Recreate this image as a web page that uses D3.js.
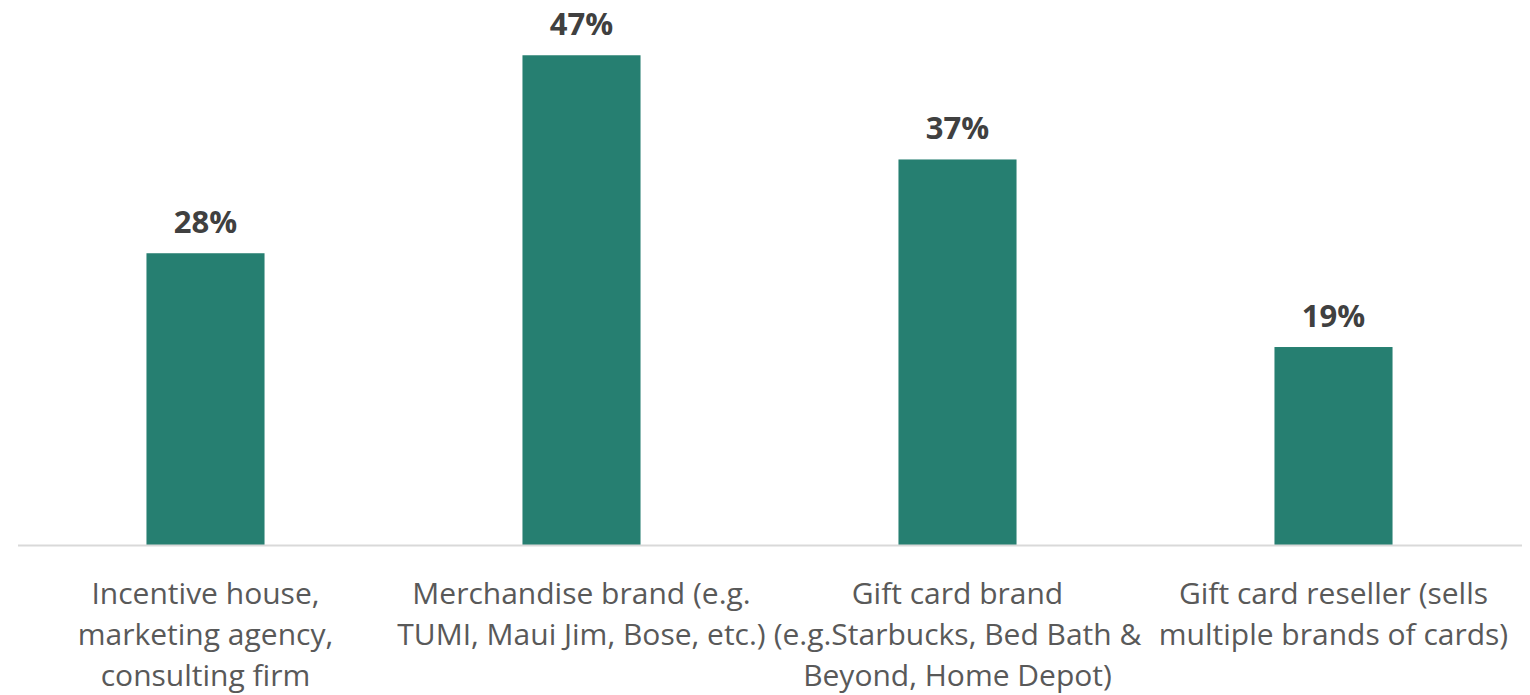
<!DOCTYPE html>
<html>
<head>
<meta charset="utf-8">
<script src="https://cdn.jsdelivr.net/npm/d3@7"></script>
<style>
  html, body { margin: 0; padding: 0; background: #ffffff; }
  svg { display: block; }
</style>
</head>
<body>
<svg id="chart" width="1530" height="695"></svg>
<script>
// Share of respondents by type of reward provider
const categories = [
  "Incentive house, marketing agency, consulting firm",
  "Merchandise brand (e.g. TUMI, Maui Jim, Bose, etc.)",
  "Gift card brand (e.g.Starbucks, Bed Bath & Beyond, Home Depot)",
  "Gift card reseller (sells multiple brands of cards)"
];
// Line breaks used for each category label
const categoryLines = [
  ["Incentive house,", "marketing agency,", "consulting firm"],
  ["Merchandise brand (e.g.", "TUMI, Maui Jim, Bose, etc.)"],
  ["Gift card brand", "(e.g.Starbucks, Bed Bath &", "Beyond, Home Depot)"],
  ["Gift card reseller (sells", "multiple brands of cards)"]
];
const values = [0.28, 0.47, 0.37, 0.19];

const svg = d3.select("#chart");
const fontFamily = "'Open Sans', 'Noto Sans', sans-serif";

const x = d3.scaleBand()
  .domain(categories)
  .range([17.5, 1521.5])
  .paddingInner(0.686)
  .paddingOuter(0.343);

const y = d3.scaleLinear()
  .domain([0, 0.5])
  .range([545, 24]);

// Bars
svg.append("g")
  .selectAll("rect")
  .data(values)
  .join("rect")
  .attr("x", (d, i) => x(categories[i]))
  .attr("y", d => y(d))
  .attr("width", x.bandwidth())
  .attr("height", d => y(0) - y(d))
  .attr("fill", "#267f71");

// Baseline axis
const axis = svg.append("g")
  .attr("transform", `translate(0,${y(0)})`)
  .call(d3.axisBottom(x).tickSize(0).tickFormat(""));
axis.select(".domain").attr("stroke", "#d9d9d9").attr("stroke-width", 2);

// Value labels
svg.append("g")
  .selectAll("text")
  .data(values)
  .join("text")
  .attr("x", (d, i) => x(categories[i]) + x.bandwidth() / 2)
  .attr("y", d => y(d) - 20)
  .attr("text-anchor", "middle")
  .attr("font-family", fontFamily)
  .attr("font-weight", "bold")
  .attr("font-size", 31)
  .attr("fill", "#404040")
  .text(d => d3.format(".0%")(d));

// Category labels
const lineHeight = 41;
svg.append("g")
  .selectAll("text")
  .data(categories)
  .join("text")
  .attr("x", d => x(d) + x.bandwidth() / 2)
  .attr("y", 604)
  .attr("text-anchor", "middle")
  .attr("font-family", fontFamily)
  .attr("font-size", 30)
  .attr("fill", "#595959")
  .each(function(d, i) {
    d3.select(this).selectAll("tspan")
      .data(categoryLines[i])
      .join("tspan")
      .attr("x", x(d) + x.bandwidth() / 2)
      .attr("dy", (t, j) => j === 0 ? 0 : lineHeight)
      .text(t => t);
  });
</script>
</body>
</html>
